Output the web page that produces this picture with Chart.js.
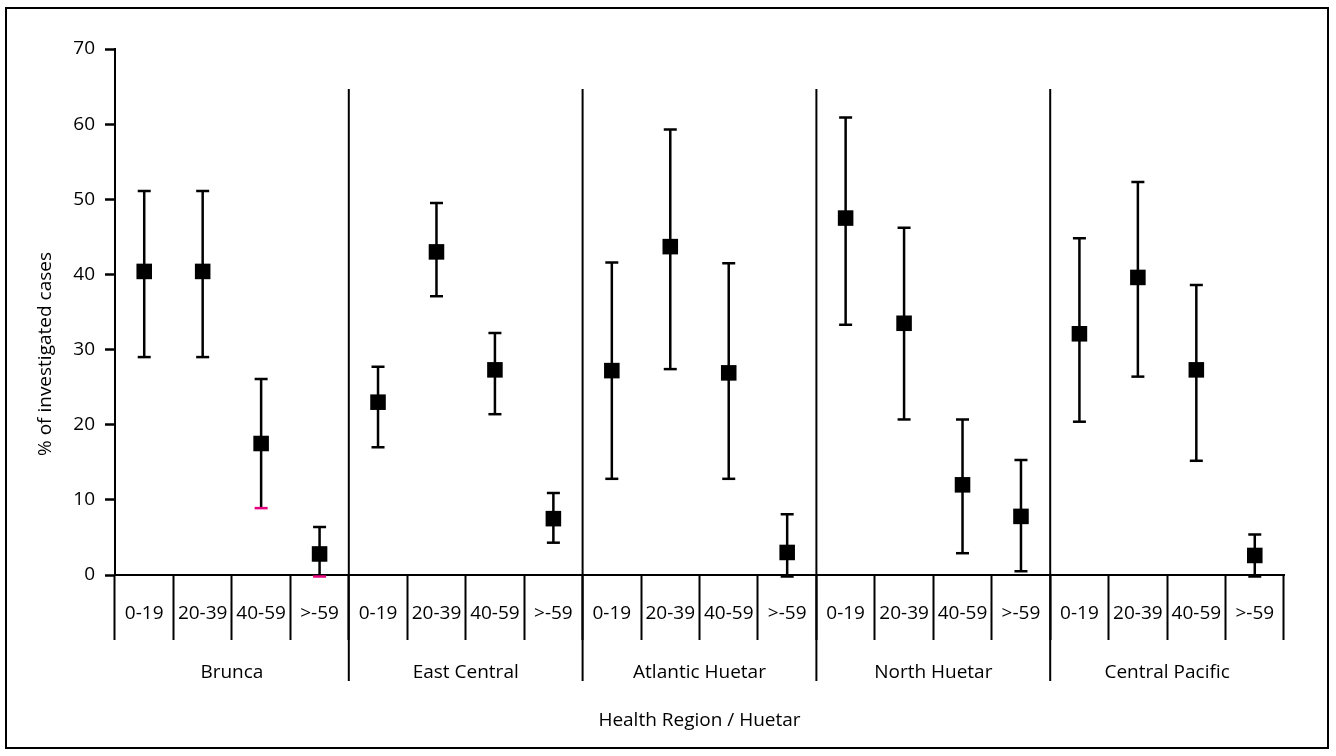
<!DOCTYPE html>
<html>
<head>
<meta charset="utf-8">
<script src="https://cdn.jsdelivr.net/npm/chart.js@4.4.1/dist/chart.umd.min.js"></script>
<style>
  body { margin: 0; background: #fff; }
  #wrap { position: relative; width: 1336px; height: 756px; }
  #frame { position: absolute; left: 5px; top: 7px; width: 1320px; height: 738px; border: 2px solid #000; }
  #chart { position: absolute; left: 0; top: 0; }
</style>
</head>
<body>
<div id="wrap">
  <div id="frame"></div>
  <canvas id="chart" width="1336" height="756"></canvas>
</div>
<script>
// health regions and age groups
var regions = ['Brunca', 'East Central', 'Atlantic Huetar', 'North Huetar', 'Central Pacific'];
var ageGroups = ['0-19', '20-39', '40-59', '>-59'];

// % of investigated cases, one value per region x age group
var pctCases = [40.4, 40.4, 17.5, 2.8,
                23.0, 43.0, 27.3, 7.5,
                27.2, 43.7, 26.9, 3.0,
                47.5, 33.5, 12.0, 7.8,
                32.1, 39.6, 27.3, 2.6];
var upperCI  = [51.1, 51.1, 26.1, 6.4,
                27.7, 49.5, 32.2, 10.9,
                41.6, 59.3, 41.5, 8.1,
                60.9, 46.2, 20.7, 15.3,
                44.8, 52.3, 38.6, 5.4];
var lowerCI  = [29.0, 29.0, 8.9, -0.2,
                17.0, 37.1, 21.4, 4.3,
                12.8, 27.4, 12.8, -0.2,
                33.3, 20.7, 2.9, 0.5,
                20.4, 26.4, 15.2, -0.2];
var yTicks = [0, 10, 20, 30, 40, 50, 60, 70];

// lower caps drawn in magenta in the original
var pinkLowerCaps = [2, 3];

var labels = [];
regions.forEach(function(r) {
  ageGroups.forEach(function(a) { labels.push(a); });
});

var FONT = '"Open Sans", "Noto Sans", sans-serif';
var FSIZE = 19;

var errorBars = {
  id: 'errorBars',
  beforeDatasetsDraw: function(chart) {
    var ctx = chart.ctx, x = chart.scales.x, y = chart.scales.y;
    ctx.save();
    ctx.lineWidth = 2.5;
    for (var i = 0; i < pctCases.length; i++) {
      var px = x.getPixelForValue(i);
      var top = y.getPixelForValue(upperCI[i]);
      var bot = y.getPixelForValue(lowerCI[i]);
      ctx.strokeStyle = '#000';
      ctx.beginPath();
      ctx.moveTo(px, top); ctx.lineTo(px, bot);
      ctx.moveTo(px - 6.5, top); ctx.lineTo(px + 6.5, top);
      ctx.stroke();
      ctx.strokeStyle = pinkLowerCaps.indexOf(i) >= 0 ? '#e6007e' : '#000';
      ctx.beginPath();
      ctx.moveTo(px - 6.5, bot); ctx.lineTo(px + 6.5, bot);
      ctx.stroke();
    }
    ctx.restore();
  },
  afterDraw: function(chart) {
    var ctx = chart.ctx, x = chart.scales.x, area = chart.chartArea;
    var n = ageGroups.length;
    ctx.save();
    ctx.strokeStyle = '#000';
    ctx.lineWidth = 2;
    ctx.fillStyle = '#000';
    ctx.font = FSIZE + 'px ' + FONT;
    ctx.textAlign = 'center';
    ctx.textBaseline = 'middle';
    for (var g = 0; g < regions.length; g++) {
      var left = g === 0 ? area.left : (x.getPixelForValue(g * n - 1) + x.getPixelForValue(g * n)) / 2;
      var right = g === regions.length - 1 ? area.right :
        (x.getPixelForValue(g * n + n - 1) + x.getPixelForValue(g * n + n)) / 2;
      if (g > 0) {
        ctx.beginPath();
        ctx.moveTo(left, area.top + 40);
        ctx.lineTo(left, 681);
        ctx.stroke();
      }
      ctx.fillText(regions[g], (left + right) / 2, 673);
    }
    ctx.fillText('Health Region / Huetar', (area.left + area.right) / 2, 721);

    // y axis title, sits a bit below the middle of the axis
    ctx.translate(46, 354);
    ctx.rotate(-Math.PI / 2);
    ctx.fillText('% of investigated cases', 0, 0);
    ctx.restore();
  }
};

new Chart(document.getElementById('chart'), {
  type: 'line',
  data: {
    labels: labels,
    datasets: [{
      data: pctCases,
      showLine: false,
      pointStyle: 'rect',
      pointRadius: 11,
      pointHoverRadius: 11,
      pointBackgroundColor: '#000',
      pointBorderWidth: 0,
      clip: false
    }]
  },
  options: {
    responsive: false,
    animation: false,
    events: [],
    layout: { padding: { left: 0, top: 49, right: 52, bottom: 0 } },
    plugins: { legend: { display: false }, tooltip: { enabled: false } },
    scales: {
      x: {
        type: 'category',
        offset: true,
        afterFit: function(s) { s.height = 181; },
        grid: {
          offset: true,
          drawOnChartArea: false,
          tickLength: 65,
          tickWidth: 2,
          tickColor: function(c) { return c.index >= pctCases.length ? 'rgba(0,0,0,0)' : '#000'; }
        },
        border: { color: '#000', width: 2 },
        ticks: { color: '#000', font: { family: FONT, size: FSIZE }, padding: -38, maxRotation: 0, autoSkip: false }
      },
      y: {
        min: 0,
        max: 70,
        afterFit: function(s) { s.width = 115; },
        afterBuildTicks: function(s) { s.ticks = yTicks.map(function(v) { return { value: v }; }); },
        grid: { drawOnChartArea: false, tickLength: 10, tickWidth: 2.5, tickColor: '#000' },
        border: { color: '#000', width: 2 },
        ticks: { color: '#000', font: { family: FONT, size: FSIZE }, padding: 10 }
      }
    }
  },
  plugins: [errorBars]
});
</script>
</body>
</html>
